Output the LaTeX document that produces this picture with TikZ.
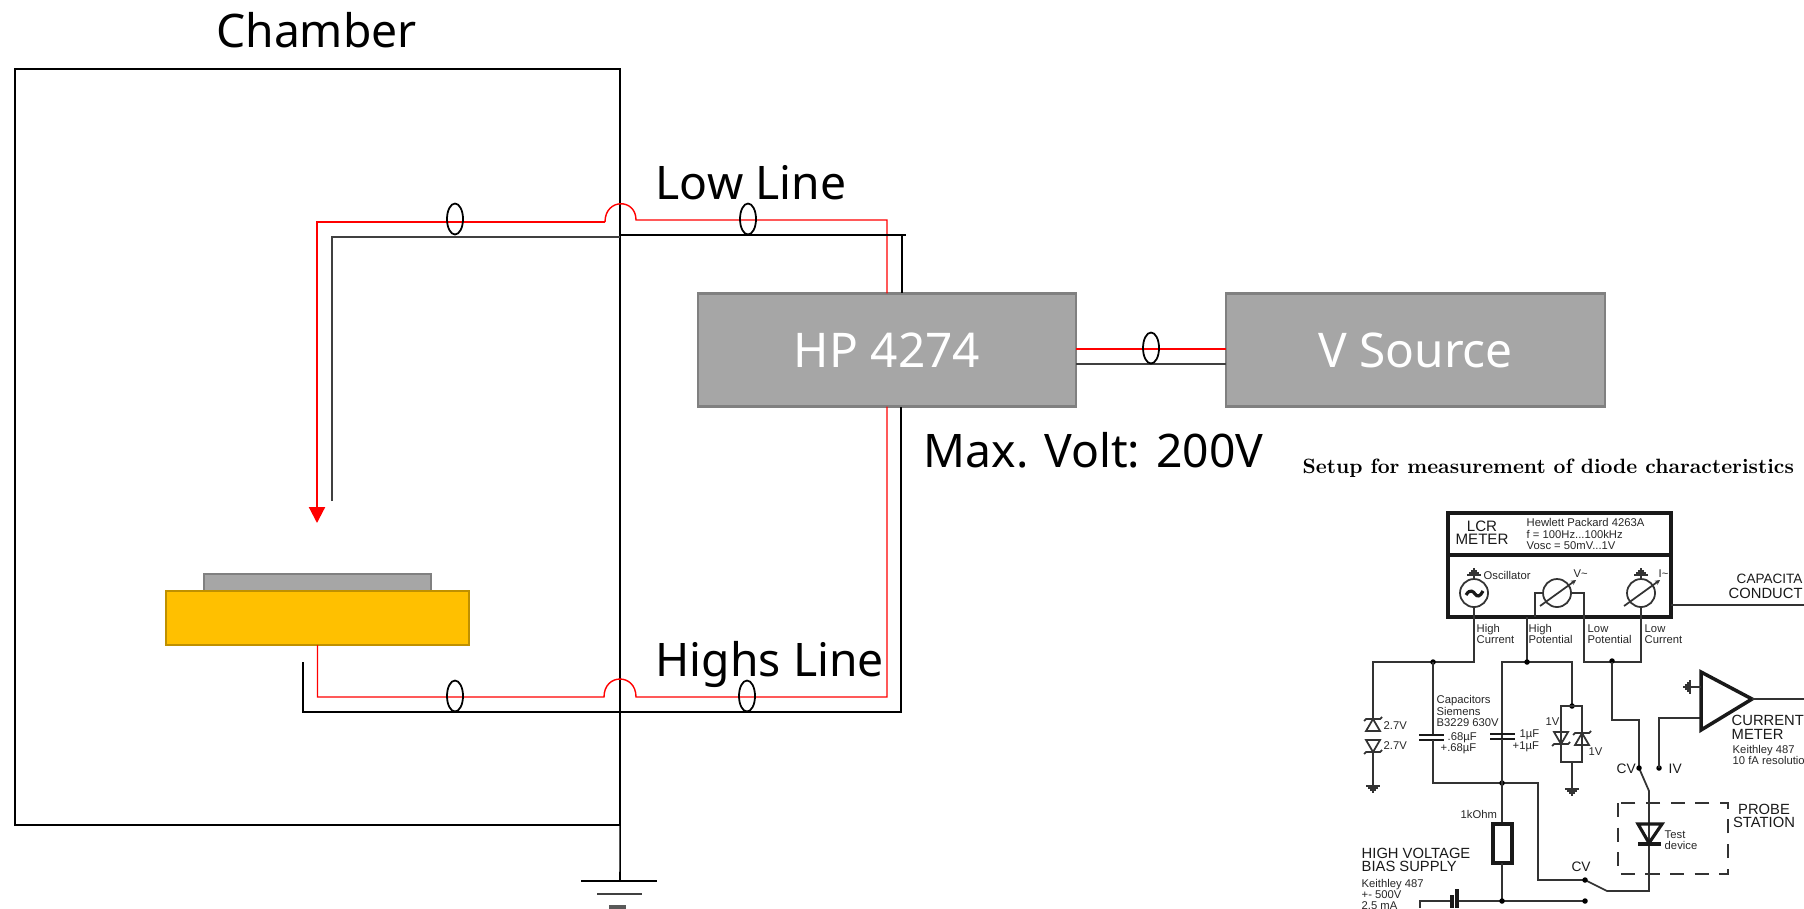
\documentclass[tikz,border=0pt]{standalone}
\usepackage{fontspec}
\usepackage{tikz}
\usetikzlibrary{arrows.meta,shapes.geometric}
\newfontfamily\slidefont{Noto Sans}
\newfontfamily\scanfont{Liberation Sans}
\newfontfamily\titlefont[OpticalSize=10]{Latin Modern Roman}
\definecolor{chuckfill}{HTML}{FFC000}
\definecolor{chuckline}{HTML}{BF9000}

\begin{document}
\begin{tikzpicture}[x=0.01cm,y=-0.01cm,
        slidetxt/.style={font=\slidefont\fontsize{13.15}{15}\selectfont,inner sep=0pt,anchor=west},
        graybox/.style={draw=black!50,line width=0.6pt,fill=black!35,text=white,inner sep=0pt,outer sep=0pt,minimum width=3.78cm,minimum height=1.13cm,font=\slidefont\fontsize{13.6}{15}\selectfont},
        clamp/.style={draw,ellipse,line width=0.5pt,inner sep=0pt,minimum width=0.16cm,minimum height=0.31cm},
        redwire/.style={red,line width=0.4pt},
        blackwire/.style={black,line width=0.45pt},
        scanwire/.style={black!80,line width=0.5pt},
        scanbold/.style={black!90,line width=0.9pt},
        smalltxt/.style={font=\scanfont\fontsize{3.2}{3.15}\selectfont,inner sep=0pt,anchor=west,align=left,text=black!85},
        midtxt/.style={font=\scanfont\fontsize{4.2}{3.9}\selectfont,inner sep=0pt,anchor=west,align=left,text=black!90},
        dot/.style={circle,fill=black,inner sep=0pt,minimum size=0.055cm},
        gnd/.pic={
            \draw[scanwire] (0,0) -- (0,4);
            \draw[scanwire] (-7,4) -- (7,4);
            \draw[scanwire] (-5,6) -- (5,6);
            \draw[scanwire] (-3,8) -- (3,8);
            \draw[scanwire] (-1,10) -- (1,10);
        },
        zener/.pic={
            \draw[scanwire] (-7,6) -- (7,6) -- (0,-6) -- cycle;
            \draw[scanwire] (-9,-4) -- (-7,-6) -- (7,-6) -- (9,-8);
        }]
    \useasboundingbox (0,0) rectangle (1804,908);

    \node[draw,line width=0.6pt,inner sep=0pt,outer sep=0pt,minimum width=6.05cm,minimum height=7.56cm] (chamber) at (317.5,447) {};
    \node[slidetxt,anchor=center] (chamberlabel) at (316.5,30) {Chamber};

    \node[graybox] (hp) at (887,350) {HP 4274};
    \node[graybox] (vsource) at (1415.5,350) {V Source};
    \node[draw=black!50,line width=0.6pt,fill=black!35,inner sep=0pt,outer sep=0pt,minimum width=2.27cm,minimum height=0.17cm] (sample) at (317.5,582.5) {};
    \node[draw=chuckline,line width=0.6pt,fill=chuckfill,inner sep=0pt,outer sep=0pt,minimum width=3.03cm,minimum height=0.54cm] (chuck) at (317.5,618) {};

    \coordinate (tiplow) at (317,523);
    \coordinate (cornerred) at (317,222);
    \coordinate (hopa) at (605,222);
    \coordinate (hopb) at (636,220);
    \coordinate (redright) at (887,220);
    \coordinate (lowend) at (332,501);
    \coordinate (cornerblack) at (332,237);
    \coordinate (blackin) at (620,237);
    \coordinate (blackout) at (620,235);
    \coordinate (stubright) at (906,235);
    \coordinate (blackright) at (902,235);
    \coordinate (redbottom) at (317.5,697);
    \coordinate (hopc) at (604,697);
    \coordinate (hopd) at (636,697);
    \coordinate (redlow) at (887,697);
    \coordinate (chuckend) at (303,662);
    \coordinate (blackcorner) at (303,712);
    \coordinate (blacklow) at (901,712);
    \coordinate (linkred) at (1150,349);
    \coordinate (linkblack) at (1150,364);
    \coordinate (gndtop) at (620,881);

    \draw[red,line width=0.6pt,-{Triangle[length=0.16cm,width=0.16cm]}] (hopa) -- (cornerred) -- (tiplow);
    \draw[redwire] (hopa) .. controls (605,198) and (636,198) .. (hopb) -- (redright) -- (redright |- hp.north);
    \draw[blackwire,black!75,line width=0.6pt] (lowend) -- (cornerblack) -- (blackin);
    \draw[blackwire] (blackout) -- (stubright);
    \draw[blackwire] (blackright) -- (blackright |- hp.north);
    \draw[redwire] (chuck.south -| redbottom) -- (redbottom) -- (hopc) .. controls (604,673) and (636,673) .. (hopd) -- (redlow) -- (redlow |- hp.south);
    \draw[blackwire] (chuckend) -- (blackcorner) -- (blacklow) -- (blacklow |- hp.south);
    \draw[redwire,line width=0.3pt] (hp.east |- linkred) -- (vsource.west |- linkred);
    \draw[blackwire,black!75,line width=0.6pt] (hp.east |- linkblack) -- (vsource.west |- linkblack);

    \node[clamp] (clampa) at (455,219) {};
    \node[clamp] (clampb) at (748,219) {};
    \node[clamp] (clampc) at (455,696) {};
    \node[clamp] (clampd) at (747,696) {};
    \node[clamp] (clampe) at (1151,348) {};

    \draw[blackwire] (chamber.south east) -- (gndtop);
    \draw[blackwire] (581,881) -- (657,881);
    \draw[blackwire,black!75,line width=0.6pt] (597,894) -- (642,894);
    \draw[black!65,line width=0.9pt] (609,907) -- (626,907);

    \node[slidetxt] (lowlabel) at (655,183) {Low Line};
    \node[slidetxt] (highlabel) at (655,664) {Highs Line};
    \node[slidetxt] (maxlabel) at (923,450) {Max. Volt: 200V};

    \node[inner sep=0pt,anchor=west,font=\titlefont\bfseries\fontsize{5.89}{6}\selectfont] (title) at (1302,468) {Setup for measurement of diode characteristics};

    \draw[scanbold] (1448,513) rectangle (1671,617);
    \draw[scanbold] (1448,555) -- (1671,555);
    \node[midtxt,align=center,anchor=center,font=\scanfont\fontsize{4.3}{3.7}\selectfont] (lcr) at (1482,533) {LCR\\METER};
    \node[smalltxt,font=\scanfont\fontsize{3.2}{3.3}\selectfont] (hewlett) at (1526,534) {Hewlett Packard 4263A\\f = 100Hz...100kHz\\Vosc = 50mV...1V};

    \draw[scanwire] (1474,593) circle [radius=14];
    \draw[scanbold] (1466,595) .. controls (1470,588) and (1474,592) .. (1475,594) .. controls (1477,597) and (1480,597) .. (1483,591);
    \pic[rotate=180] at (1474,579) {gnd};
    \node[smalltxt] (oscillator) at (1483,575) {Oscillator};
    \draw[scanwire] (1474,607) -- (1474,662) -- (1373,662) -- (1373,718);
    \node[dot] (highdot) at (1433,662) {};

    \draw[scanwire] (1557,593) circle [radius=14];
    \draw[scanwire,-{Stealth[length=0.05cm,width=0.05cm]}] (1540,606) -- (1576,580);
    \node[smalltxt] (vlabel) at (1573,574) {V\textasciitilde};
    \draw[scanwire] (1543,593) -- (1535,593) -- (1535,617);
    \draw[scanwire] (1571,593) -- (1584,593) -- (1584,662) -- (1641,662) -- (1641,607);
    \draw[scanwire] (1527,617) -- (1527,662);
    \draw[scanwire] (1502,760) -- (1502,662) -- (1572,662) -- (1572,706);
    \node[dot] (potdot) at (1527,662) {};
    \node[dot] (lowdot) at (1612,661) {};

    \draw[scanwire] (1641,593) circle [radius=14];
    \draw[scanwire,-{Stealth[length=0.05cm,width=0.05cm]}] (1624,606) -- (1660,580);
    \pic[rotate=180] at (1641,579) {gnd};
    \node[smalltxt] (ilabel) at (1658,574) {I\textasciitilde};

    \draw[scanwire] (1671,605) -- (1804,605);
    \node[midtxt,font=\scanfont\fontsize{3.85}{3.9}\selectfont] (capacitance) at (1736,579) {CAPACITA};
    \node[midtxt] (conductance) at (1728,593) {CONDUCT};

    \node[smalltxt] (highcurrent) at (1476,634) {High\\Current};
    \node[smalltxt] (highpot) at (1528,634) {High\\Potential};
    \node[smalltxt] (lowpot) at (1587,634) {Low\\Potential};
    \node[smalltxt] (lowcurrent) at (1644,634) {Low\\Current};

    \pic at (1373,725) {zener};
    \pic[rotate=180] at (1373,746) {zener};
    \draw[scanwire] (1373,752) -- (1373,782);
    \pic at (1373,782) {gnd};
    \node[smalltxt] (zenera) at (1383,726) {2.7V};
    \node[smalltxt] (zenerb) at (1383,746) {2.7V};

    \draw[scanwire] (1433,662) -- (1433,735);
    \draw[scanbold,line width=0.65pt] (1419,735) -- (1444,735);
    \draw[scanbold,line width=0.65pt] (1419,740) -- (1444,740);
    \draw[scanwire] (1433,740) -- (1433,783) -- (1538,783) -- (1538,880) -- (1585,880);
    \node[dot] (capdot) at (1502,783) {};
    \draw[scanwire,line width=0.6pt] (1502,662) -- (1502,734);
    \draw[scanbold,line width=0.65pt] (1490,734) -- (1515,734);
    \draw[scanbold,line width=0.65pt] (1490,739) -- (1515,739);
    \draw[scanwire,line width=0.6pt] (1502,739) -- (1502,824);
    \draw[scanbold] (1493,824) rectangle (1512,863);
    \draw[scanwire,line width=0.6pt] (1502,863) -- (1502,901);
    \node[smalltxt] (capacitors) at (1436,711) {Capacitors\\Siemens\\B3229 630V};
    \node[smalltxt] (capa) at (1447,738) {.68\textmu F};
    \node[smalltxt] (capb) at (1440,749) {+.68\textmu F};
    \node[smalltxt] (capc) at (1519,735) {1\textmu F};
    \node[smalltxt] (capd) at (1512,747) {+1\textmu F};
    \node[smalltxt] (ohm) at (1460,814) {1kOhm};

    \node[dot] (pairdot) at (1572,706) {};
    \draw[scanwire] (1561,706) rectangle (1582,762);
    \pic[rotate=180] at (1561,738) {zener};
    \pic at (1582,739) {zener};
    \draw[scanwire] (1572,762) -- (1572,785);
    \pic at (1572,785) {gnd};
    \node[smalltxt] (onevl) at (1545,722) {1V};
    \node[smalltxt] (onevr) at (1588,752) {1V};

    \draw[scanwire] (1612,662) -- (1612,720) -- (1639,720) -- (1639,768) -- (1649,791) -- (1649,891) -- (1607,891) -- (1585,880);
    \node[dot] (cvdot) at (1639,768) {};
    \node[dot] (ivdot) at (1659,768) {};
    \node[midtxt,font=\scanfont\fontsize{3.9}{4}\selectfont] (cvlabel) at (1616,769) {CV};
    \node[midtxt,font=\scanfont\fontsize{3.9}{4}\selectfont] (ivlabel) at (1668,769) {IV};
    \draw[scanwire] (1659,768) -- (1659,718) -- (1701,718);

    \draw[scanbold,line width=1pt] (1701,672) -- (1701,730) -- (1752,699) -- cycle;
    \draw[scanwire] (1752,699) -- (1804,699);
    \draw[scanwire] (1701,687) -- (1694,687);
    \pic[rotate=-90] at (1694,687) {gnd};
    \node[midtxt] (currentmeter) at (1731,727.5) {CURRENT\\METER};
    \node[smalltxt] (keithleya) at (1732,754.5) {Keithley 487\\10 fA resolutio};

    \draw[scanwire,dash pattern=on 4pt off 3pt,line width=0.4pt] (1618,803) rectangle (1728,874);
    \draw[scanbold] (1638,824) -- (1662,824) -- (1649,843) -- cycle;
    \draw[scanbold] (1638,844) -- (1661,844);
    \node[smalltxt] (testdevice) at (1664,840.5) {Test\\device};
    \node[midtxt,align=center,anchor=center] (probe) at (1764,816) {PROBE\\STATION};

    \node[midtxt] (highvolt) at (1361,860) {HIGH VOLTAGE\\BIAS SUPPLY};
    \node[smalltxt,font=\scanfont\fontsize{3.2}{3.2}\selectfont] (keithleyb) at (1361,894.5) {Keithley 487\\+- 500V\\2.5 mA};
    \node[midtxt,font=\scanfont\fontsize{3.9}{4}\selectfont,anchor=center] (cvbottom) at (1581,867) {CV};

    \draw[scanwire] (1420,908) -- (1420,901) -- (1451,901);
    \draw[scanwire] (1457,901) -- (1585,901);
    \draw[scanbold,line width=1.2pt] (1452,895) -- (1452,908);
    \draw[scanbold] (1457,889) -- (1457,908);
    \node[dot] (busdot) at (1502,901) {};
    \node[dot] (cvleftdot) at (1585,880) {};
    \node[dot] (ivrightdot) at (1585,901) {};
\end{tikzpicture}
\end{document}
